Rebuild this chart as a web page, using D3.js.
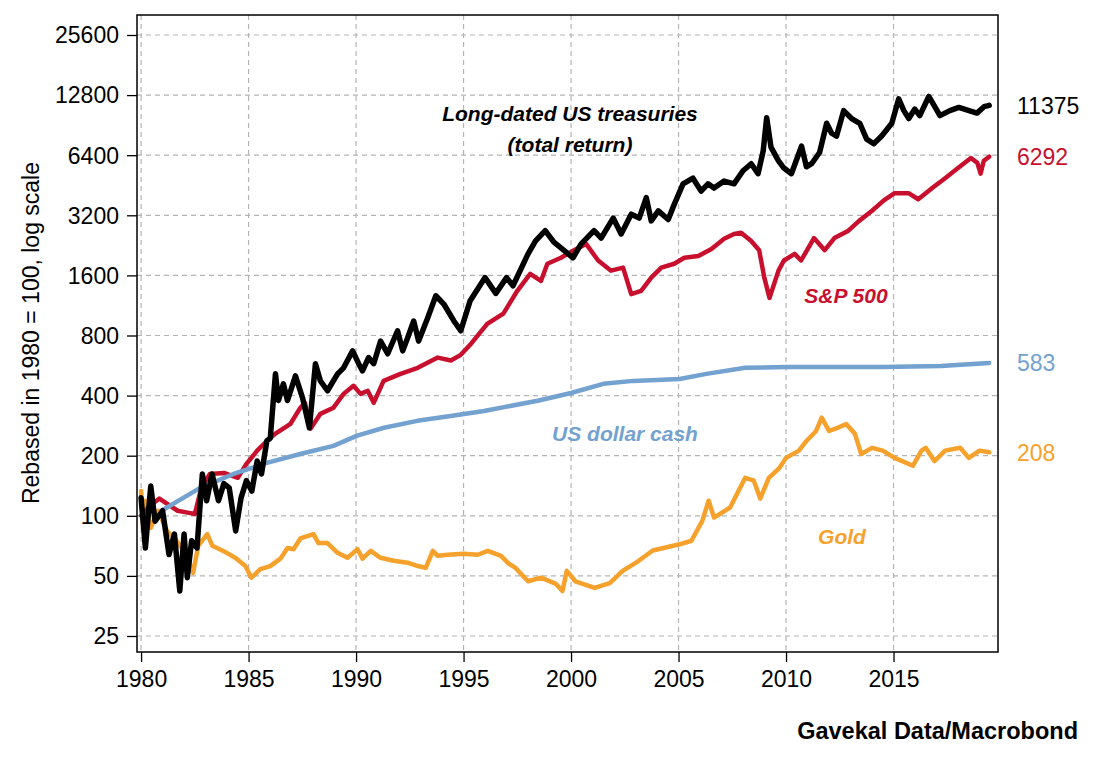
<!DOCTYPE html>
<html>
<head>
<meta charset="utf-8">
<script src="https://cdn.jsdelivr.net/npm/d3@7"></script>
<style>
    body { margin: 0; background: #fff; }
    svg text { font-family: "Liberation Sans", Arial, sans-serif; }
</style>
</head>
<body>
<div id="chart"></div>
<script>
// values rebased 1980 = 100; [year, value]
var treasuries = [
    [1980.0, 123], [1980.2, 69], [1980.45, 141], [1980.65, 94], [1981.0, 106], [1981.3, 64],
    [1981.55, 81], [1981.8, 42], [1982.0, 81], [1982.15, 49], [1982.35, 75], [1982.6, 69],
    [1982.85, 162], [1983.05, 119], [1983.3, 162], [1983.6, 119], [1983.85, 145], [1984.1, 138],
    [1984.4, 84], [1984.65, 123], [1984.9, 150], [1985.15, 133], [1985.4, 188], [1985.6, 162],
    [1985.85, 237], [1986.01, 245], [1986.25, 514], [1986.39, 378], [1986.62, 458], [1986.81, 378],
    [1987.18, 502], [1987.51, 390], [1987.83, 276], [1988.11, 578], [1988.34, 474], [1988.67, 423],
    [1989.14, 514], [1989.42, 551], [1989.84, 670], [1990.12, 578], [1990.3, 532], [1990.58, 620],
    [1990.82, 578], [1991.14, 750], [1991.47, 648], [1991.93, 845], [1992.17, 670], [1992.4, 780],
    [1992.68, 946], [1992.91, 750], [1993.33, 980], [1993.71, 1265], [1994.08, 1150], [1994.55, 946],
    [1994.87, 845], [1995.3, 1190], [1996.0, 1560], [1996.5, 1300], [1997.0, 1560], [1997.3, 1420],
    [1998.0, 2050], [1998.35, 2380], [1998.8, 2680], [1999.2, 2350], [1999.53, 2200], [2000.09, 1960],
    [2000.47, 2300], [2001.07, 2680], [2001.4, 2460], [2001.96, 3100], [2002.33, 2580], [2002.8, 3240],
    [2003.17, 3100], [2003.5, 3920], [2003.73, 3000], [2004.06, 3370], [2004.52, 3050], [2004.8, 3630],
    [2005.21, 4600], [2005.67, 4910], [2006.05, 4230], [2006.37, 4600], [2006.65, 4380], [2007.12, 4750],
    [2007.58, 4600], [2008.0, 5350], [2008.38, 5800], [2008.7, 5170], [2008.94, 6750], [2009.1, 9870],
    [2009.3, 7020], [2009.65, 6000], [2009.9, 5520], [2010.25, 5170], [2010.72, 7100], [2010.95, 5600],
    [2011.19, 5800], [2011.56, 6600], [2011.89, 9250], [2012.12, 8250], [2012.35, 7980], [2012.68, 10700],
    [2013.05, 9770], [2013.43, 9250], [2013.75, 7700], [2014.08, 7300], [2014.45, 7980], [2014.92, 9250],
    [2015.24, 12250], [2015.48, 10700], [2015.71, 9770], [2015.99, 10900], [2016.22, 10100], [2016.64, 12600],
    [2016.92, 11200], [2017.16, 10100], [2017.62, 10700], [2018.04, 11100], [2018.51, 10700], [2018.88, 10400],
    [2019.21, 11200], [2019.45, 11375]
];

var sp500 = [
    [1980.0, 100], [1980.4, 112], [1980.85, 122], [1981.2, 115], [1981.7, 106], [1982.1, 104],
    [1982.5, 102], [1982.8, 138], [1983.2, 162], [1983.85, 164], [1984.5, 155], [1984.9, 182],
    [1985.4, 212], [1985.85, 237], [1986.25, 258], [1986.95, 289], [1987.41, 348], [1987.62, 368],
    [1987.88, 273], [1988.34, 324], [1988.95, 348], [1989.42, 408], [1989.88, 448], [1990.21, 408],
    [1990.54, 423], [1990.82, 368], [1991.28, 474], [1992.07, 514], [1992.87, 551], [1993.8, 620],
    [1994.41, 600], [1994.87, 640], [1995.35, 728], [1996.1, 915], [1996.85, 1030], [1997.5, 1340],
    [1998.1, 1630], [1998.6, 1500], [1998.9, 1830], [1999.53, 1960], [2000.14, 2140], [2000.7, 2300],
    [2001.26, 1900], [2001.86, 1690], [2002.42, 1750], [2002.8, 1290], [2003.26, 1340], [2003.73, 1560],
    [2004.2, 1750], [2004.8, 1830], [2005.27, 1960], [2005.92, 2000], [2006.53, 2170], [2007.12, 2440],
    [2007.58, 2580], [2007.91, 2620], [2008.38, 2380], [2008.75, 2140], [2008.99, 1560], [2009.23, 1234],
    [2009.65, 1690], [2009.9, 1900], [2010.4, 2050], [2010.7, 1900], [2011.3, 2460], [2011.8, 2140],
    [2012.25, 2460], [2012.9, 2680], [2013.4, 3000], [2014.0, 3370], [2014.55, 3800], [2015.05, 4130],
    [2015.7, 4130], [2016.15, 3850], [2016.8, 4380], [2017.4, 4910], [2018.0, 5520], [2018.6, 6200],
    [2018.9, 5860], [2019.05, 5170], [2019.2, 6000], [2019.45, 6292]
];

var cash = [
    [1980.95, 106], [1982.75, 138], [1984.3, 162], [1985.85, 184], [1987.4, 204], [1988.95, 224],
    [1990.05, 252], [1991.3, 276], [1992.85, 299], [1994.4, 316], [1995.95, 335], [1998.45, 377],
    [2000.0, 412], [2001.5, 458], [2002.9, 474], [2005.05, 484], [2006.3, 514], [2008.1, 551],
    [2010.05, 557], [2014.5, 557], [2017.2, 563], [2019.45, 583]
];

var gold = [
    [1980.0, 133], [1980.1, 87], [1980.2, 119], [1980.45, 87], [1980.8, 106], [1981.2, 84],
    [1981.65, 75], [1982.1, 64], [1982.42, 51.8], [1982.66, 70.8], [1983.08, 81], [1983.31, 70.8],
    [1983.82, 66.7], [1984.38, 61.6], [1984.85, 56], [1985.13, 49], [1985.55, 54], [1986.01, 56],
    [1986.48, 61], [1986.81, 69], [1987.09, 68], [1987.41, 77], [1988.02, 81], [1988.25, 73],
    [1988.67, 73], [1989.14, 65.3], [1989.6, 61.6], [1990.07, 68], [1990.3, 61], [1990.68, 66.7],
    [1991.14, 61.6], [1991.75, 59.5], [1992.4, 58.2], [1992.87, 56], [1993.24, 54.9], [1993.57, 66.7],
    [1993.8, 63], [1994.27, 63.8], [1995.01, 64.5], [1995.66, 63.8], [1996.13, 66.7], [1996.74, 63],
    [1997.11, 57.5], [1997.4, 55], [1998.0, 47], [1998.6, 49], [1999.3, 45.6], [1999.6, 42],
    [1999.8, 53], [2000.2, 47], [2001.1, 43.5], [2001.8, 46], [2002.4, 53], [2003.1, 59],
    [2003.8, 67], [2004.3, 69], [2005.05, 72], [2005.6, 75], [2006.1, 94], [2006.4, 119],
    [2006.65, 98], [2007.4, 110], [2008.1, 155], [2008.5, 150], [2008.8, 122], [2009.2, 155],
    [2009.7, 174], [2010.0, 195], [2010.6, 212], [2010.95, 237], [2011.4, 266], [2011.66, 310],
    [2012.0, 266], [2012.4, 276], [2012.8, 288], [2013.2, 258], [2013.5, 204], [2014.0, 219],
    [2014.5, 212], [2015.05, 195], [2015.9, 178], [2016.3, 212], [2016.5, 219], [2016.9, 188],
    [2017.4, 212], [2018.1, 219], [2018.5, 195], [2019.0, 212], [2019.45, 208]
];

var yTicks = [25, 50, 100, 200, 400, 800, 1600, 3200, 6400, 12800, 25600];
var xTicks = [1980, 1985, 1990, 1995, 2000, 2005, 2010, 2015];

var series = [
    {name: 'gold', data: gold, color: '#f6a12b', width: 4.5, end: '208',
        label: ['Gold'], lx: 842, ly: 544},
    {name: 'sp500', data: sp500, color: '#c8102e', width: 4.5, end: '6292',
        label: ['S&P 500'], lx: 846, ly: 303},
    {name: 'cash', data: cash, color: '#73a1d0', width: 4.5, end: '583',
        label: ['US dollar cash'], lx: 625, ly: 441},
    {name: 'treasuries', data: treasuries, color: '#000000', width: 5.5, end: '11375',
        label: ['Long-dated US treasuries', '(total return)'], lx: 570, ly: 121}
];

var width = 1104,
    height = 764,
    plot = {left: 137, top: 15, right: 998, bottom: 652};

var svg = d3.select('#chart').append('svg')
    .attr('width', width)
    .attr('height', height);

var x = d3.scaleLinear()
    .domain([1979.81, 2019.86])
    .range([plot.left, plot.right]);

var y = d3.scaleLog()
    .base(2)
    .domain([25, 25600])
    .range([636, 35]);

// grid
svg.append('g').selectAll('line')
    .data(yTicks)
    .enter().append('line')
    .attr('x1', plot.left)
    .attr('x2', plot.right)
    .attr('y1', function (d) { return y(d); })
    .attr('y2', function (d) { return y(d); })
    .attr('stroke', '#b4b4b4')
    .attr('stroke-width', 1.2)
    .attr('stroke-dasharray', '5,4');

svg.append('g').selectAll('line')
    .data(xTicks)
    .enter().append('line')
    .attr('x1', function (d) { return x(d); })
    .attr('x2', function (d) { return x(d); })
    .attr('y1', plot.top)
    .attr('y2', plot.bottom)
    .attr('stroke', '#b4b4b4')
    .attr('stroke-width', 1.2)
    .attr('stroke-dasharray', '5,4');

// axes
var yAxis = d3.axisLeft(y)
    .tickValues(yTicks)
    .tickFormat(d3.format('d'))
    .tickSize(10)
    .tickPadding(8);

var xAxis = d3.axisBottom(x)
    .tickValues(xTicks)
    .tickFormat(d3.format('d'))
    .tickSize(10)
    .tickPadding(8);

var gy = svg.append('g')
    .attr('transform', 'translate(' + plot.left + ',0)')
    .call(yAxis);
var gx = svg.append('g')
    .attr('transform', 'translate(0,' + plot.bottom + ')')
    .call(xAxis);

[gy, gx].forEach(function (g) {
    g.select('.domain').remove();
    g.selectAll('.tick line').attr('stroke', '#000').attr('stroke-width', 1.3);
    g.selectAll('.tick text')
        .attr('fill', '#000')
        .style('font-size', '23px');
});
gy.selectAll('.tick text').attr('dy', '0.34em');
gx.selectAll('.tick text').attr('dy', '0.72em');

// lines
var line = d3.line()
    .x(function (d) { return x(d[0]); })
    .y(function (d) { return y(d[1]); })
    .curve(d3.curveLinear);

series.forEach(function (s) {
    svg.append('path')
        .datum(s.data)
        .attr('fill', 'none')
        .attr('stroke', s.color)
        .attr('stroke-width', s.width)
        .attr('stroke-linejoin', 'round')
        .attr('stroke-linecap', 'round')
        .attr('d', line);
});

// frame
svg.append('rect')
    .attr('x', plot.left)
    .attr('y', plot.top)
    .attr('width', plot.right - plot.left)
    .attr('height', plot.bottom - plot.top)
    .attr('fill', 'none')
    .attr('stroke', '#000')
    .attr('stroke-width', 1.5);

// series labels inside the plot
series.forEach(function (s) {
    s.label.forEach(function (txt, i) {
        svg.append('text')
            .attr('x', s.lx)
            .attr('y', s.ly + i * 31)
            .attr('text-anchor', 'middle')
            .attr('fill', s.color)
            .style('font-size', '21px')
            .style('font-style', 'italic')
            .style('font-weight', 'bold')
            .text(txt);
    });
});

// end values on the right
series.forEach(function (s) {
    var last = s.data[s.data.length - 1];
    svg.append('text')
        .attr('x', 1017)
        .attr('y', y(last[1]))
        .attr('dy', '0.36em')
        .attr('fill', s.color)
        .style('font-size', '23px')
        .text(s.end);
});

// y axis title
svg.append('text')
    .attr('transform', 'translate(39,333) rotate(-90)')
    .attr('text-anchor', 'middle')
    .attr('fill', '#000')
    .style('font-size', '23px')
    .text('Rebased in 1980 = 100, log scale');

// source
svg.append('text')
    .attr('x', 1078)
    .attr('y', 739)
    .attr('text-anchor', 'end')
    .attr('fill', '#000')
    .style('font-size', '23.5px')
    .style('font-weight', 'bold')
    .text('Gavekal Data/Macrobond');
</script>
</body>
</html>
